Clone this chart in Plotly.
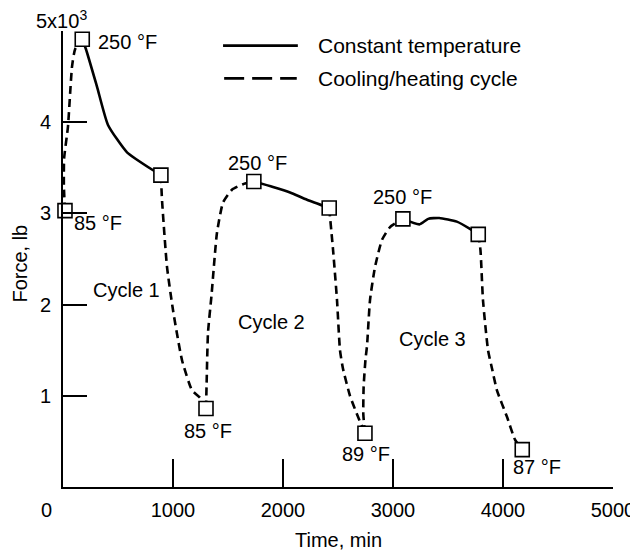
import plotly.graph_objects as go

# ---- data ----
marker_time = [18, 175, 890, 1300, 1735, 2420, 2745, 3090, 3775, 4175]
marker_force = [3.03, 4.91, 3.42, 0.86, 3.35, 3.06, 0.59, 2.94, 2.77, 0.41]

# constant temperature segments (solid)
const_seg1_t = [175, 209, 309, 409, 582, 836, 890]
const_seg1_f = [4.91, 4.80, 4.39, 3.97, 3.67, 3.46, 3.42]
const_seg2_t = [1735, 1909, 2064, 2218, 2420]
const_seg2_f = [3.35, 3.29, 3.23, 3.15, 3.06]
const_seg3_t = [3090, 3240, 3320, 3420, 3580, 3700, 3775]
const_seg3_f = [2.94, 2.88, 2.94, 2.95, 2.91, 2.83, 2.77]

# cooling / heating segments (dashed)
cyc_seg1_t = [18, 8, 10, 45, 82, 110, 175]
cyc_seg1_f = [3.03, 3.30, 3.60, 3.95, 4.61, 4.80, 4.91]
cyc_seg2_t = [890, 900, 945, 1000, 1082, 1173, 1245, 1300]
cyc_seg2_f = [3.42, 3.15, 2.42, 1.94, 1.39, 1.06, 0.98, 0.86]
cyc_seg3_t = [1300, 1305, 1318, 1350, 1400, 1455, 1536, 1636, 1735]
cyc_seg3_f = [0.86, 1.10, 1.69, 2.10, 2.79, 3.12, 3.26, 3.32, 3.35]
cyc_seg4_t = [2420, 2455, 2491, 2518, 2545, 2609, 2682, 2745]
cyc_seg4_f = [3.06, 2.60, 2.05, 1.50, 1.30, 1.00, 0.77, 0.59]
cyc_seg5_t = [2745, 2730, 2733, 2750, 2764, 2791, 2836, 2900, 2973, 3090]
cyc_seg5_f = [0.59, 0.80, 1.10, 1.40, 1.55, 2.05, 2.41, 2.71, 2.85, 2.94]
cyc_seg6_t = [3775, 3795, 3818, 3864, 3900, 3945, 4036, 4109, 4175]
cyc_seg6_f = [2.77, 2.60, 2.05, 1.50, 1.30, 1.06, 0.77, 0.52, 0.41]

x_tick_vals = [1000, 2000, 3000, 4000, 5000]
x_tick_text = ["1000", "2000", "3000", "4000", "5000"]
y_tick_vals = [1, 2, 3, 4, 5]
y_tick_text = ["1", "2", "3", "4", ""]

label_text = ["250 °F", "85 °F", "Cycle 1", "85 °F", "250 °F", "Cycle 2",
              "89 °F", "250 °F", "Cycle 3", "87 °F"]
label_time = [582, 318, 573, 1318, 1764, 1891, 2755, 3082, 3355, 4309]
label_force = [4.88, 2.89, 2.16, 0.61, 3.55, 1.81, 0.36, 3.18, 1.62, 0.22]

FONT = "Liberation Sans, Arial, sans-serif"
FS = 20
LW = 2.6

fig = go.Figure()

def add_segs(ts, fs, dash):
    for t, f in zip(ts, fs):
        fig.add_trace(go.Scatter(
            x=t, y=f, mode="lines",
            line=dict(color="black", width=LW, dash=dash, shape="spline", smoothing=0.5),
            showlegend=False, hoverinfo="skip"))

add_segs([const_seg1_t, const_seg2_t, const_seg3_t],
         [const_seg1_f, const_seg2_f, const_seg3_f], "solid")
add_segs([cyc_seg1_t, cyc_seg2_t, cyc_seg3_t, cyc_seg4_t, cyc_seg5_t, cyc_seg6_t],
         [cyc_seg1_f, cyc_seg2_f, cyc_seg3_f, cyc_seg4_f, cyc_seg5_f, cyc_seg6_f],
         "8px,5px")

fig.add_trace(go.Scatter(
    x=marker_time, y=marker_force, mode="markers",
    marker=dict(symbol="square", size=14, color="white",
                line=dict(color="black", width=1.6)),
    cliponaxis=False, showlegend=False, hoverinfo="skip"))

annotations = []
for txt, t, f in zip(label_text, label_time, label_force):
    annotations.append(dict(x=t, y=f, xref="x", yref="y", text=txt, showarrow=False,
                            font=dict(family=FONT, size=FS, color="black")))

# zero label on x axis and 5x10^3 on y axis
annotations.append(dict(x=0, y=0, xref="x", yref="y", text="0", showarrow=False,
                        xanchor="center", yanchor="middle",
                        xshift=-17, yshift=-23, font=dict(family=FONT, size=FS, color="black")))
annotations.append(dict(x=0, y=5, xref="x", yref="y", text="5x10<sup>3</sup>", showarrow=False,
                        xanchor="center", yanchor="middle",
                        xshift=-2, yshift=12, font=dict(family=FONT, size=FS, color="black")))
# axis titles
annotations.append(dict(x=0.5, y=0, xref="paper", yref="paper", text="Time, min",
                        showarrow=False, xanchor="center", yanchor="middle", yshift=-53,
                        font=dict(family=FONT, size=FS, color="black")))
annotations.append(dict(x=0, y=0.49, xref="paper", yref="paper", text="Force, lb",
                        showarrow=False, xanchor="center", yanchor="middle",
                        xshift=-43, textangle=-90,
                        font=dict(family=FONT, size=FS, color="black")))
# legend text
annotations.append(dict(x=0.46, y=0.968, xref="paper", yref="paper", text="Constant temperature",
                        showarrow=False, xanchor="left", yanchor="middle",
                        font=dict(family=FONT, size=21, color="black")))
annotations.append(dict(x=0.46, y=0.896, xref="paper", yref="paper", text="Cooling/heating cycle",
                        showarrow=False, xanchor="left", yanchor="middle",
                        font=dict(family=FONT, size=21, color="black")))

shapes = [
    dict(type="line", xref="paper", yref="paper", x0=0.291, x1=0.427, y0=0.968, y1=0.968,
         line=dict(color="black", width=LW)),
    dict(type="line", xref="paper", yref="paper", x0=0.293, x1=0.425, y0=0.896, y1=0.896,
         line=dict(color="black", width=LW, dash="20px,8px")),
]

# page body has an 8px margin, so the figure is sized/offset to compensate
fig.update_layout(
    width=630, height=542,
    margin=dict(l=55, r=25, t=23, b=63, autoexpand=False),
    paper_bgcolor="white", plot_bgcolor="white",
    font=dict(family=FONT, size=FS, color="black"),
    annotations=annotations, shapes=shapes,
    xaxis=dict(range=[0, 5000], showgrid=False, zeroline=False, showline=True,
               linecolor="black", linewidth=2, ticks="inside", ticklen=28, tickwidth=2,
               tickcolor="black", tickvals=x_tick_vals, ticktext=x_tick_text,
               ticklabelstandoff=4, automargin=False,
               tickfont=dict(family=FONT, size=FS, color="black")),
    yaxis=dict(range=[0, 5], showgrid=False, zeroline=False, showline=True,
               linecolor="black", linewidth=2, ticks="inside", ticklen=24, tickwidth=2,
               tickcolor="black", tickvals=y_tick_vals, ticktext=y_tick_text,
               ticklabelstandoff=6, automargin=False,
               tickfont=dict(family=FONT, size=FS, color="black")),
)

fig.write_html("out.html")
